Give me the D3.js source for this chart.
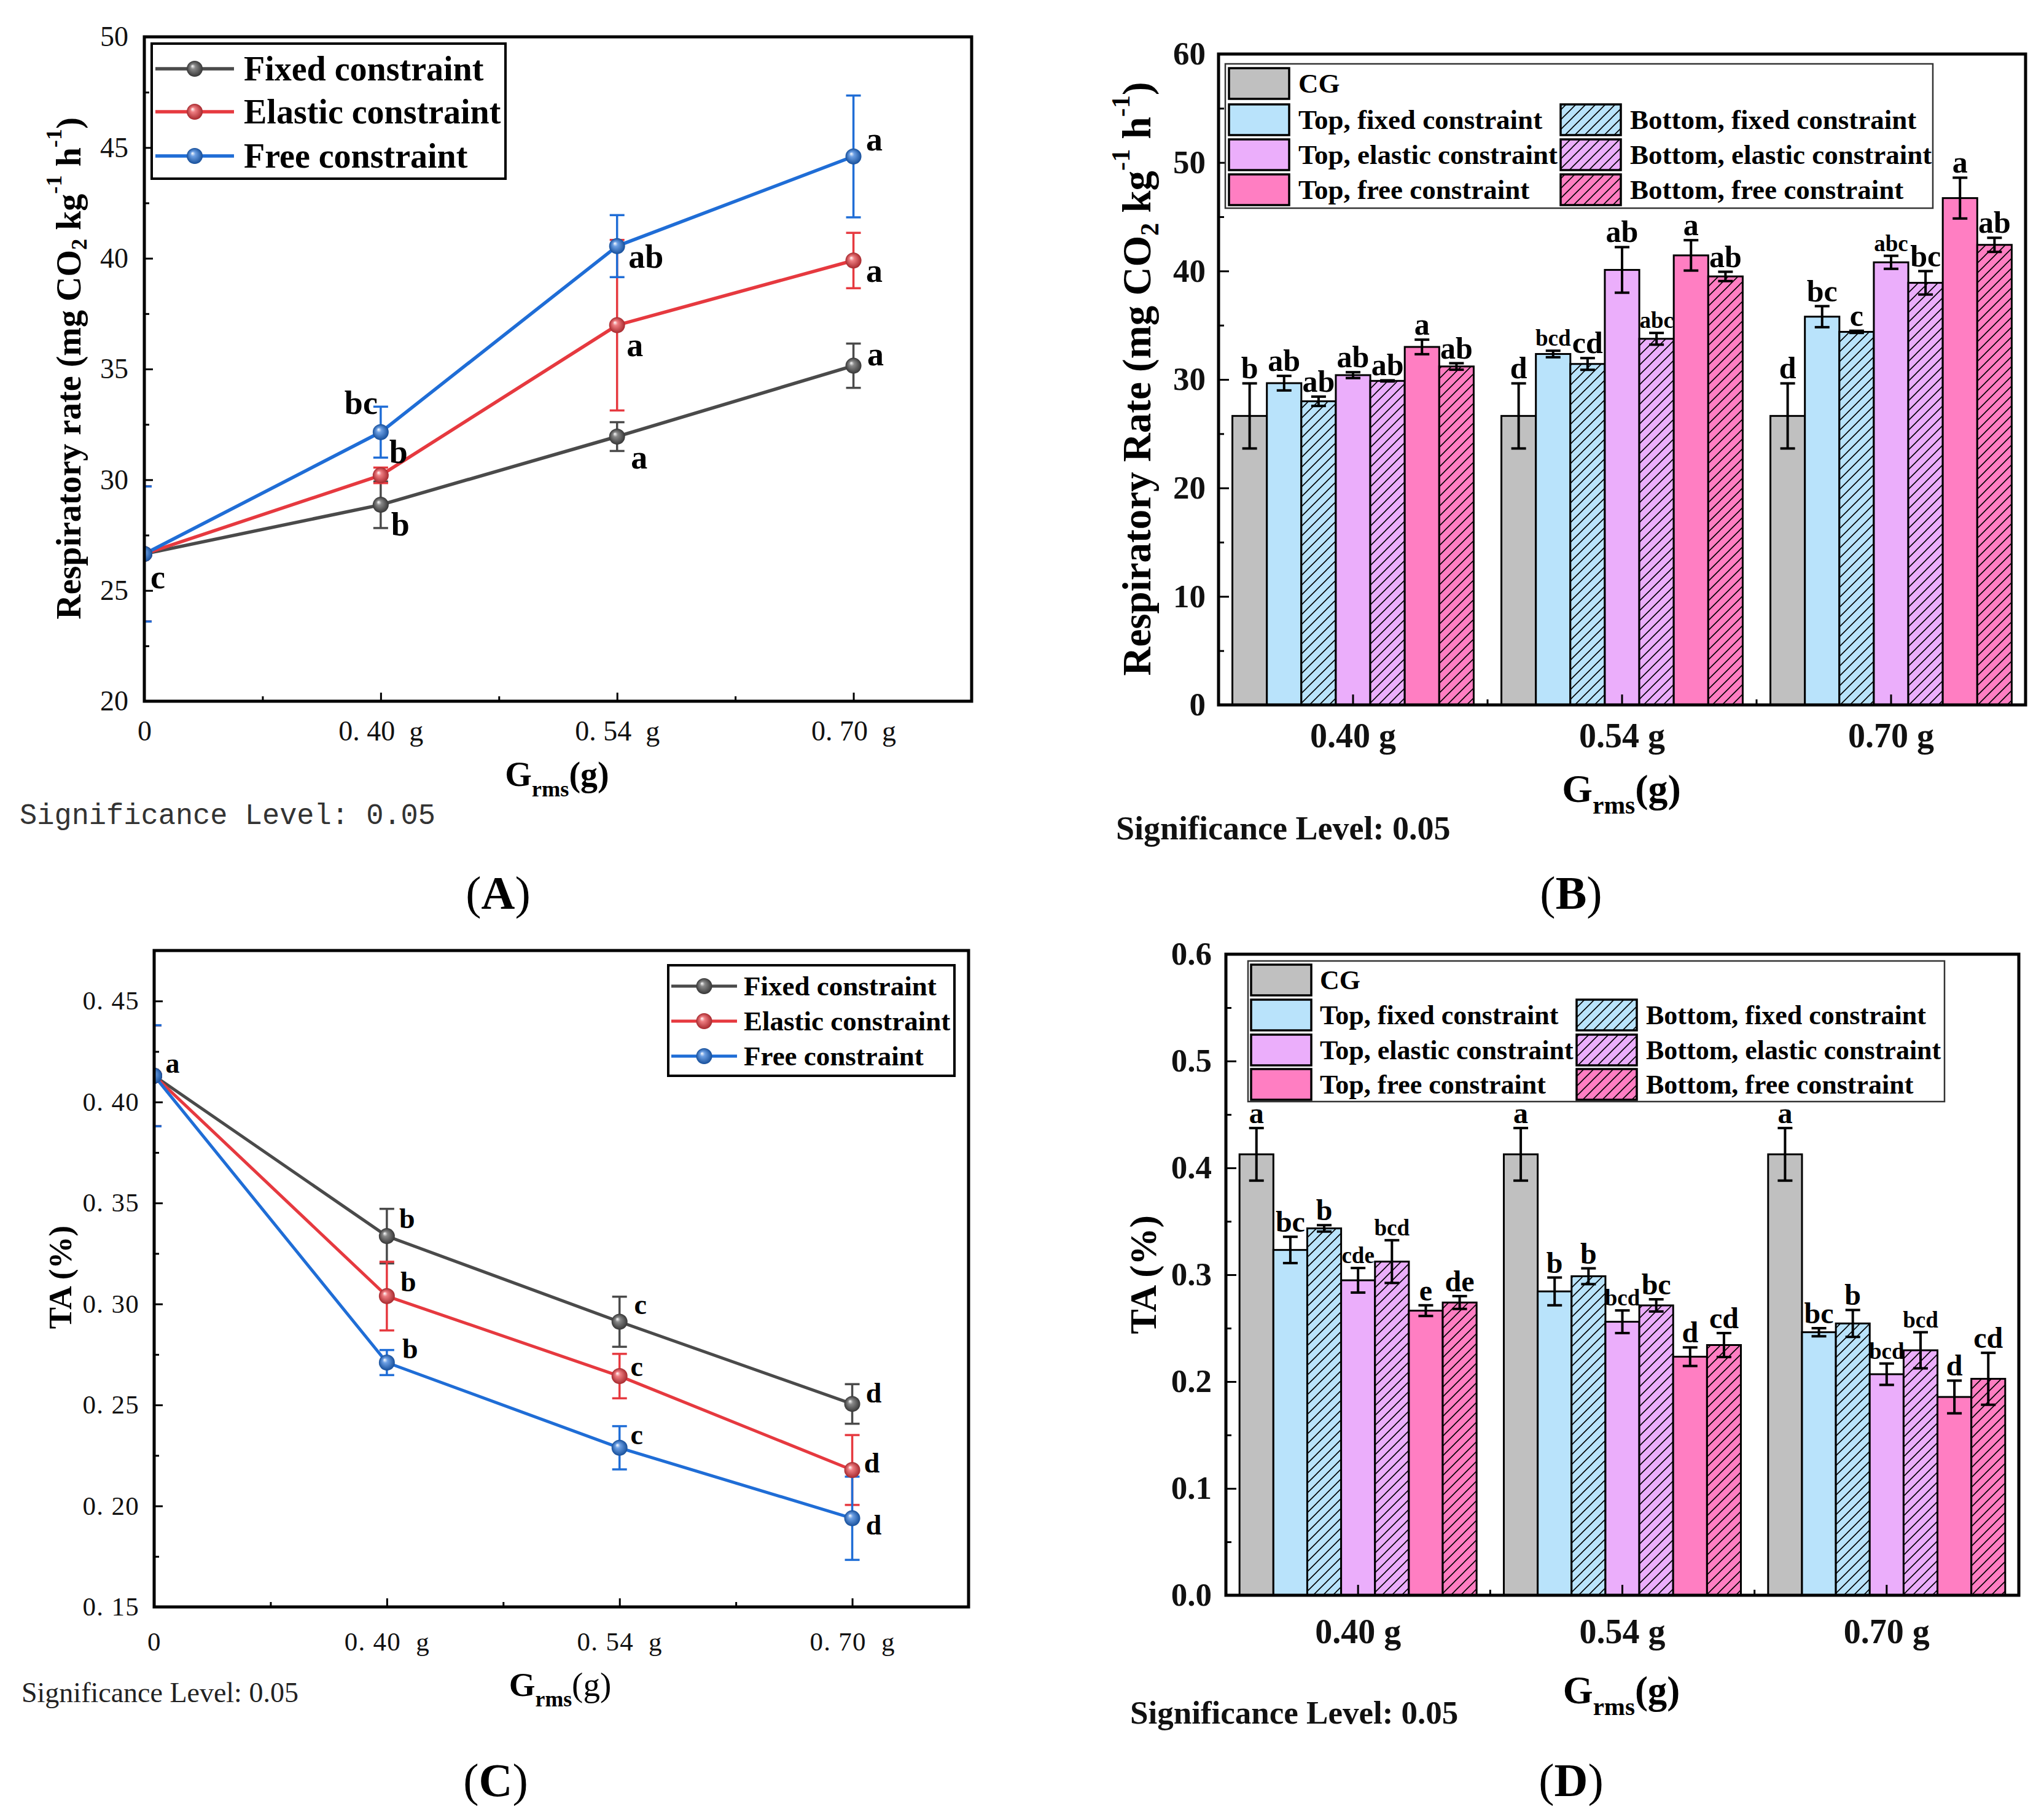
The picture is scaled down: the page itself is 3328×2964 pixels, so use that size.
<!DOCTYPE html>
<html>
<head>
<meta charset="utf-8">
<script src="https://cdn.jsdelivr.net/npm/d3@7"></script>
<style>
  body { margin: 0; background: #fff; }
  svg { display: block; }
</style>
</head>
<body>
<div id="chart"></div>
<script>
// ---- data ----

// line charts (A, C)
const lineCats = ["0", "0. 40  g", "0. 54  g", "0. 70  g"];
const lineNames = ["Fixed constraint", "Elastic constraint", "Free constraint"];

// (A) respiratory rate
const rrFixed = [26.65, 28.87, 31.95, 35.15];
const rrFixedErr = [3.05, 1.05, 0.65, 1.0];
const rrFixedSig = ["c", "b", "a", "a"];
const rrElastic = [26.65, 30.2, 36.98, 39.9];
const rrElasticErr = [3.05, 0.35, 3.85, 1.25];
const rrElasticSig = ["", "b", "a", "a"];
const rrFree = [26.65, 32.15, 40.55, 44.6];
const rrFreeErr = [3.05, 1.15, 1.4, 2.75];
const rrFreeSig = ["", "bc", "ab", "a"];
const rrTicks = [20, 25, 30, 35, 40, 45, 50];
const rrTickLabels = ["20", "25", "30", "35", "40", "45", "50"];

// (C) titratable acidity
const taFixed = [0.413, 0.3336, 0.2912, 0.2505];
const taFixedErr = [0.025, 0.0135, 0.0124, 0.0098];
const taFixedSig = ["a", "b", "c", "d"];
const taElastic = [0.413, 0.3039, 0.2643, 0.2178];
const taElasticErr = [0.025, 0.017, 0.011, 0.0173];
const taElasticSig = ["", "b", "c", "d"];
const taFree = [0.413, 0.271, 0.2288, 0.1939];
const taFreeErr = [0.025, 0.0062, 0.0107, 0.0206];
const taFreeSig = ["", "b", "c", "d"];
const taTicks = [0.15, 0.20, 0.25, 0.30, 0.35, 0.40, 0.45];
const taTickLabels = ["0. 15", "0. 20", "0. 25", "0. 30", "0. 35", "0. 40", "0. 45"];

// bar charts (B, D): one row per series, one column per category
const barCats = ["0.40 g", "0.54 g", "0.70 g"];
const barNames = ["CG", "Top, fixed constraint", "Bottom, fixed constraint",
  "Top, elastic constraint", "Bottom, elastic constraint",
  "Top, free constraint", "Bottom, free constraint"];

// (B) respiratory rate
const rrBarMeans = [
  [26.64, 26.64, 26.64],
  [29.66, 32.35, 35.79],
  [27.99, 31.43, 34.39],
  [30.4, 40.1, 40.8],
  [29.87, 33.75, 38.91],
  [33.0, 41.44, 46.72],
  [31.2, 39.5, 42.41]
];
const rrBarErrs = [
  [3.0, 3.0, 3.0],
  [0.67, 0.3, 0.97],
  [0.43, 0.54, 0.1],
  [0.27, 2.1, 0.6],
  [0.05, 0.54, 1.08],
  [0.67, 1.4, 1.88],
  [0.3, 0.43, 0.65]
];
const rrBarSig = [
  ["b", "d", "d"],
  ["ab", "bcd", "bc"],
  ["ab", "cd", "c"],
  ["ab", "ab", "abc"],
  ["ab", "abc", "bc"],
  ["a", "a", "a"],
  ["ab", "ab", "ab"]
];
const rrBarTicks = [0, 10, 20, 30, 40, 50, 60];
const rrBarTickLabels = ["0", "10", "20", "30", "40", "50", "60"];

// (D) titratable acidity
const taBarMeans = [
  [0.4127, 0.4127, 0.4127],
  [0.3232, 0.2844, 0.2462],
  [0.3434, 0.2986, 0.2544],
  [0.2948, 0.256, 0.2069],
  [0.3123, 0.2713, 0.2293],
  [0.2664, 0.2233, 0.1856],
  [0.274, 0.2342, 0.2026]
];
const taBarErrs = [
  [0.0246, 0.0246, 0.0246],
  [0.0123, 0.013, 0.0038],
  [0.003, 0.0074, 0.0126],
  [0.0115, 0.0106, 0.01],
  [0.02, 0.0057, 0.0169],
  [0.005, 0.0087, 0.0153],
  [0.006, 0.0112, 0.0243]
];
const taBarSig = [
  ["a", "a", "a"],
  ["bc", "b", "bc"],
  ["b", "b", "b"],
  ["cde", "bcd", "bcd"],
  ["bcd", "bc", "bcd"],
  ["e", "d", "d"],
  ["de", "cd", "cd"]
];
const taBarTicks = [0, 0.1, 0.2, 0.3, 0.4, 0.5, 0.6];
const taBarTickLabels = ["0.0", "0.1", "0.2", "0.3", "0.4", "0.5", "0.6"];

// ---- styles ----
const serif = "'Liberation Serif', 'Times New Roman', serif";
const mono = "'Liberation Mono', monospace";
const lineColors = ["#4a4a4a", "#e6393f", "#1f6dd6"];
const barFills = ["#c0c0c0", "#b9e3fb", "#b9e3fb", "#ebaefb", "#ebaefb", "#ff7ec2", "#ff7ec2"];
const barHatched = [false, false, true, false, true, false, true];
// legend slot [column, row] for each bar series
const legendSlots = [[0, 0], [0, 1], [1, 1], [0, 2], [1, 2], [0, 3], [1, 3]];

const W = 3328, H = 2964;
const svg = d3.select("#chart").append("svg").attr("width", W).attr("height", H);
svg.append("rect").attr("width", W).attr("height", H).attr("fill", "#fff");
const defs = svg.append("defs");

// shaded ball markers
lineColors.forEach((c, i) => {
  const g = defs.append("radialGradient").attr("id", "ball" + i)
    .attr("cx", "50%").attr("cy", "50%").attr("r", "50%").attr("fx", "35%").attr("fy", "32%");
  g.append("stop").attr("offset", "0%").attr("stop-color", "#ffffff");
  g.append("stop").attr("offset", "30%").attr("stop-color", d3.interpolateRgb(c, "#fff")(0.35));
  g.append("stop").attr("offset", "100%").attr("stop-color", d3.color(c).darker(0.9));
});

// hatch fills
barFills.forEach((c, i) => {
  if (!barHatched[i]) return;
  const pat = defs.append("pattern").attr("id", "hatch" + i)
    .attr("patternUnits", "userSpaceOnUse").attr("width", 16).attr("height", 16);
  pat.append("rect").attr("width", 16).attr("height", 16).attr("fill", c);
  pat.append("path").attr("d", "M-4,4L4,-4M0,16L16,0M12,20L20,12")
    .attr("stroke", "#000").attr("stroke-width", 1.6);
});
const barFill = i => barHatched[i] ? `url(#hatch${i})` : barFills[i];

// text with sub/superscripts
function richText(g, parts, fs) {
  const t = g.append("text").attr("font-size", fs);
  let shift = 0;
  parts.forEach(p => {
    const target = p.sub ? fs * 0.3 : p.sup ? -fs * 0.42 : 0;
    const ts = t.append("tspan").attr("dy", target - shift).text(p.t);
    if (p.sub || p.sup) ts.attr("font-size", fs * 0.65);
    if (p.weight) ts.attr("font-weight", p.weight);
    shift = target;
  });
  return t;
}

function styleAxis(a, font, size, weight) {
  a.select(".domain").remove();
  a.selectAll("line").attr("stroke-width", 3);
  a.attr("font-family", font).attr("font-size", size).attr("font-weight", weight).attr("fill", "#111");
  a.selectAll("text").attr("fill", "#111");
}

function drawTitles(g, p) {
  // y title
  richText(g.append("g").attr("transform", `translate(${p.yTitle[0]},${p.yTitle[1]}) rotate(-90)`),
    p.yTitleParts, p.yTitleSize)
    .attr("text-anchor", "middle").attr("dominant-baseline", "central")
    .attr("font-family", serif).attr("font-weight", "bold");
  // x title
  richText(g, [{t: "G"}, {t: "rms", sub: true}, {t: "(g)", weight: p.xTitleParenWeight}], p.xTitleSize)
    .attr("x", p.xTitle[0]).attr("y", p.xTitle[1])
    .attr("text-anchor", "middle").attr("font-family", serif).attr("font-weight", "bold");
  // significance note
  const s = g.append("text").attr("x", p.note[0]).attr("y", p.note[1])
    .attr("font-family", p.noteFont).attr("font-size", p.noteSize)
    .attr("font-weight", p.noteWeight).attr("fill", p.noteColor).attr("xml:space", "preserve")
    .text("Significance Level: 0.05");
  if (p.noteLength) s.attr("textLength", p.noteLength).attr("lengthAdjust", "spacingAndGlyphs");
  // panel label
  const pl = g.append("text").attr("x", p.label[0]).attr("y", p.label[1])
    .attr("text-anchor", "middle").attr("font-family", serif).attr("font-size", 76);
  pl.append("tspan").text("(");
  pl.append("tspan").attr("font-weight", "bold").text(p.labelText);
  pl.append("tspan").text(")");
}

function drawLinePanel(p) {
  const g = svg.append("g");
  const x = d3.scaleLinear().domain([0, p.cats.length - 0.5]).range([p.x0, p.x1]);
  const y = d3.scaleLinear().domain(p.yDomain).range([p.y1, p.y0]);

  defs.append("clipPath").attr("id", p.id + "clip").append("rect")
    .attr("x", p.x0).attr("y", p.y0).attr("width", p.x1 - p.x0).attr("height", p.y1 - p.y0);

  // x axis ticks (inward)
  const xMinor = d3.range(p.cats.length - 1).map(i => i + 0.5);
  g.append("g").attr("transform", `translate(0,${p.y1})`)
    .call(d3.axisBottom(x).tickValues(xMinor).tickSize(-8).tickFormat(""))
    .call(styleAxis, serif, p.tickSize, "normal");
  g.append("g").attr("transform", `translate(0,${p.y1})`)
    .call(d3.axisBottom(x).tickValues(d3.range(p.cats.length)).tickSize(-14)
      .tickPadding(p.xPad).tickFormat(i => p.cats[i]))
    .call(styleAxis, serif, p.tickSize, "normal")
    .call(a => a.selectAll("text").attr("xml:space", "preserve").style("white-space", "pre")
      .attr("letter-spacing", p.letterSpacing));

  // y axis ticks (inward)
  const yMinor = d3.pairs(p.yTicks).map(([a, b]) => (a + b) / 2);
  g.append("g").attr("transform", `translate(${p.x0},0)`)
    .call(d3.axisLeft(y).tickValues(yMinor).tickSize(-8).tickFormat(""))
    .call(styleAxis, serif, p.tickSize, "normal");
  g.append("g").attr("transform", `translate(${p.x0},0)`)
    .call(d3.axisLeft(y).tickValues(p.yTicks).tickSize(-14).tickPadding(p.yPad)
      .tickFormat((d, i) => p.yTickLabels[i]))
    .call(styleAxis, serif, p.tickSize, "normal")
    .call(a => a.selectAll("text").attr("xml:space", "preserve").style("white-space", "pre")
      .attr("letter-spacing", p.letterSpacing));

  // series
  const plot = g.append("g").attr("clip-path", `url(#${p.id}clip)`);
  const line = d3.line().x((d, i) => x(i)).y(d => y(d));
  p.series.forEach((s, k) => {
    plot.append("path").datum(s.values).attr("d", line)
      .attr("fill", "none").attr("stroke", lineColors[k]).attr("stroke-width", p.lineWidth)
      .attr("stroke-linejoin", "round");
    const eb = plot.append("g").attr("stroke", lineColors[k]).attr("stroke-width", 3.5);
    s.values.forEach((v, i) => {
      const e = s.errs[i];
      eb.append("line").attr("x1", x(i)).attr("x2", x(i)).attr("y1", y(v - e)).attr("y2", y(v + e));
      [v - e, v + e].forEach(u => eb.append("line")
        .attr("x1", x(i) - 12).attr("x2", x(i) + 12).attr("y1", y(u)).attr("y2", y(u)));
    });
  });
  p.series.forEach((s, k) => {
    plot.selectAll(null).data(s.values).join("circle")
      .attr("cx", (d, i) => x(i)).attr("cy", d => y(d)).attr("r", p.r)
      .attr("fill", `url(#ball${k})`);
  });

  // significance letters
  p.series.forEach((s, k) => s.sig.forEach((t, i) => {
    if (!t) return;
    const o = p.sigOffsets[k][i];
    g.append("text").attr("x", x(i) + o[0]).attr("y", y(s.values[i]) + o[1])
      .attr("text-anchor", "middle").attr("dominant-baseline", "central")
      .attr("font-family", serif).attr("font-weight", "bold").attr("font-size", p.sigSize)
      .text(t);
  }));

  // frame
  g.append("rect").attr("x", p.x0).attr("y", p.y0).attr("width", p.x1 - p.x0).attr("height", p.y1 - p.y0)
    .attr("fill", "none").attr("stroke", "#000").attr("stroke-width", 5);

  // legend
  const L = p.legend;
  g.append("rect").attr("x", L.x).attr("y", L.y).attr("width", L.w).attr("height", L.h)
    .attr("fill", "#fff").attr("stroke", "#000").attr("stroke-width", 4);
  p.series.forEach((s, k) => {
    const cy = L.rows[k];
    g.append("line").attr("x1", L.lx0).attr("x2", L.lx1).attr("y1", cy).attr("y2", cy)
      .attr("stroke", lineColors[k]).attr("stroke-width", p.lineWidth);
    g.append("circle").attr("cx", (L.lx0 + L.lx1) / 2).attr("cy", cy).attr("r", p.r)
      .attr("fill", `url(#ball${k})`);
    g.append("text").attr("x", L.tx).attr("y", cy).attr("dominant-baseline", "central")
      .attr("font-family", serif).attr("font-weight", "bold").attr("font-size", L.size)
      .text(s.name);
  });

  drawTitles(g, p);
}

function drawBarPanel(p) {
  const g = svg.append("g");
  const x = d3.scaleBand().domain(barCats).range([p.x0, p.x1]).paddingInner(0.103).paddingOuter(0.0515);
  const xs = d3.scaleBand().domain(d3.range(barNames.length)).range([0, x.bandwidth()]);
  const y = d3.scaleLinear().domain(p.yDomain).range([p.y1, p.y0]);

  // bars
  p.means.forEach((row, s) => row.forEach((v, c) => {
    g.append("rect").attr("x", x(barCats[c]) + xs(s)).attr("y", y(v))
      .attr("width", xs.bandwidth()).attr("height", y(0) - y(v))
      .attr("fill", barFill(s)).attr("stroke", "#000").attr("stroke-width", 3);
  }));

  // error bars and letters
  p.means.forEach((row, s) => row.forEach((v, c) => {
    const cx = x(barCats[c]) + xs(s) + xs.bandwidth() / 2;
    const e = p.errs[s][c];
    const eb = g.append("g").attr("stroke", "#000").attr("stroke-width", 4);
    eb.append("line").attr("x1", cx).attr("x2", cx).attr("y1", y(v - e)).attr("y2", y(v + e));
    [v - e, v + e].forEach(u => eb.append("line")
      .attr("x1", cx - 12).attr("x2", cx + 12).attr("y1", y(u)).attr("y2", y(u)));
    const t = p.sig[s][c];
    g.append("text").attr("x", cx).attr("y", y(v + e) - 8).attr("text-anchor", "middle")
      .attr("font-family", serif).attr("font-weight", "bold")
      .attr("font-size", t.length > 2 ? p.sigSmall : p.sigSize).text(t);
  }));

  // x axis: ticks at group centres and short ticks at group borders
  g.append("g").attr("transform", `translate(0,${p.y1})`)
    .call(d3.axisBottom(x).tickSize(-17).tickPadding(p.xPad))
    .call(styleAxis, serif, p.xTickSize, "bold");
  g.append("g").selectAll("line").data(barCats.slice(1)).join("line")
    .attr("x1", d => x(d) - x.step() * x.paddingInner() / 2)
    .attr("x2", d => x(d) - x.step() * x.paddingInner() / 2)
    .attr("y1", p.y1).attr("y2", p.y1 - 9).attr("stroke", "#000").attr("stroke-width", 3);

  // y axis
  const yMinor = d3.pairs(p.yTicks).map(([a, b]) => (a + b) / 2);
  g.append("g").attr("transform", `translate(${p.x0},0)`)
    .call(d3.axisLeft(y).tickValues(yMinor).tickSize(-9).tickFormat(""))
    .call(styleAxis, serif, p.yTickSize, "bold");
  g.append("g").attr("transform", `translate(${p.x0},0)`)
    .call(d3.axisLeft(y).tickValues(p.yTicks).tickSize(-17).tickPadding(p.yPad)
      .tickFormat((d, i) => p.yTickLabels[i]))
    .call(styleAxis, serif, p.yTickSize, "bold");

  // frame
  g.append("rect").attr("x", p.x0).attr("y", p.y0).attr("width", p.x1 - p.x0).attr("height", p.y1 - p.y0)
    .attr("fill", "none").attr("stroke", "#000").attr("stroke-width", 5);

  // legend
  const L = p.legend;
  g.append("rect").attr("x", L.x).attr("y", L.y).attr("width", L.w).attr("height", L.h)
    .attr("fill", "#fff").attr("stroke", "#333").attr("stroke-width", 2.5);
  barNames.forEach((name, s) => {
    const [col, row] = legendSlots[s];
    const cy = L.rows[row];
    g.append("rect").attr("x", L.sx[col]).attr("y", cy - L.sh / 2).attr("width", L.sw).attr("height", L.sh)
      .attr("fill", barFill(s)).attr("stroke", "#000").attr("stroke-width", 3.5);
    g.append("text").attr("x", L.tx[col]).attr("y", cy).attr("dominant-baseline", "central")
      .attr("font-family", serif).attr("font-weight", "bold").attr("font-size", L.size)
      .text(name);
  });

  drawTitles(g, p);
}

const rrTitle = word => [{t: `Respiratory ${word} (mg CO`}, {t: "2", sub: true}, {t: " kg"},
  {t: "-1", sup: true}, {t: " h"}, {t: "-1", sup: true}, {t: ")"}];

// (A)
drawLinePanel({
  id: "A", x0: 235, x1: 1582, y0: 60, y1: 1142, yDomain: [20, 50],
  yTicks: rrTicks, yTickLabels: rrTickLabels, cats: lineCats,
  tickSize: 46, letterSpacing: "0em", xPad: 31, yPad: 26,
  lineWidth: 5.5, r: 13, sigSize: 54,
  series: [
    {name: lineNames[0], values: rrFixed, errs: rrFixedErr, sig: rrFixedSig},
    {name: lineNames[1], values: rrElastic, errs: rrElasticErr, sig: rrElasticSig},
    {name: lineNames[2], values: rrFree, errs: rrFreeErr, sig: rrFreeSig}
  ],
  sigOffsets: [
    [[22, 38], [32, 32], [36, 34], [36, -19]],
    [[0, 0], [29, -38], [29, 32], [34, 17]],
    [[0, 0], [-32, -48], [47, 17], [34, -28]]
  ],
  legend: {x: 247, y: 71, w: 576, h: 220, rows: [112, 182, 254], lx0: 253, lx1: 381, tx: 397, size: 56},
  yTitle: [112, 600], yTitleParts: rrTitle("rate"), yTitleSize: 56,
  xTitle: [907, 1280], xTitleSize: 56, xTitleParenWeight: "bold",
  note: [32, 1342], noteFont: mono, noteSize: 48, noteWeight: "normal", noteColor: "#333", noteLength: 677,
  label: [811, 1480], labelText: "A"
});

// (C)
drawLinePanel({
  id: "C", x0: 251, x1: 1577, y0: 1548, y1: 2617, yDomain: [0.15, 0.475],
  yTicks: taTicks, yTickLabels: taTickLabels, cats: lineCats,
  tickSize: 43, letterSpacing: "0.03em", xPad: 40, yPad: 24,
  lineWidth: 5, r: 13, sigSize: 46,
  series: [
    {name: lineNames[0], values: taFixed, errs: taFixedErr, sig: taFixedSig},
    {name: lineNames[1], values: taElastic, errs: taElasticErr, sig: taElasticSig},
    {name: lineNames[2], values: taFree, errs: taFreeErr, sig: taFreeSig}
  ],
  sigOffsets: [
    [[30, -20], [33, -29], [34, -28], [35, -18]],
    [[0, 0], [35, -23], [28, -16], [32, -11]],
    [[0, 0], [38, -23], [28, -21], [35, 11]]
  ],
  legend: {x: 1088, y: 1572, w: 466, h: 180, rows: [1606, 1663, 1720], lx0: 1093, lx1: 1200, tx: 1211, size: 45},
  yTitle: [98, 2080], yTitleParts: [{t: "TA (%)"}], yTitleSize: 53,
  xTitle: [912, 2762], xTitleSize: 55, xTitleParenWeight: "normal",
  note: [35, 2772], noteFont: serif, noteSize: 46, noteWeight: "normal", noteColor: "#222",
  label: [807, 2925], labelText: "C"
});

// (B)
drawBarPanel({
  id: "B", x0: 1984, x1: 3298, y0: 88, y1: 1148, yDomain: [0, 60],
  yTicks: rrBarTicks, yTickLabels: rrBarTickLabels,
  means: rrBarMeans, errs: rrBarErrs, sig: rrBarSig,
  xTickSize: 56, yTickSize: 53, xPad: 29, yPad: 21, sigSize: 50, sigSmall: 37,
  legend: {x: 1995, y: 104, w: 1152, h: 235, rows: [136, 195, 252, 309],
    sx: [2001, 2541], tx: [2114, 2654], sw: 98, sh: 50, size: 45},
  yTitle: [1851, 617], yTitleParts: rrTitle("Rate"), yTitleSize: 65,
  xTitle: [2640, 1306], xTitleSize: 64, xTitleParenWeight: "bold",
  note: [1817, 1367], noteFont: serif, noteSize: 54, noteWeight: "bold", noteColor: "#111",
  label: [2558, 1480], labelText: "B"
});

// (D)
drawBarPanel({
  id: "D", x0: 1996, x1: 3287, y0: 1554, y1: 2598, yDomain: [0, 0.6],
  yTicks: taBarTicks, yTickLabels: taBarTickLabels,
  means: taBarMeans, errs: taBarErrs, sig: taBarSig,
  xTickSize: 56, yTickSize: 53, xPad: 38, yPad: 23, sigSize: 48, sigSmall: 37,
  legend: {x: 2032, y: 1565, w: 1134, h: 229, rows: [1596, 1653, 1710, 1766],
    sx: [2037, 2567], tx: [2149, 2680], sw: 98, sh: 50, size: 44},
  yTitle: [1861, 2076], yTitleParts: [{t: "TA (%)"}], yTitleSize: 61,
  xTitle: [2640, 2774], xTitleSize: 63, xTitleParenWeight: "bold",
  note: [1840, 2807], noteFont: serif, noteSize: 53, noteWeight: "bold", noteColor: "#111",
  label: [2558, 2925], labelText: "D"
});
</script>
</body>
</html>
